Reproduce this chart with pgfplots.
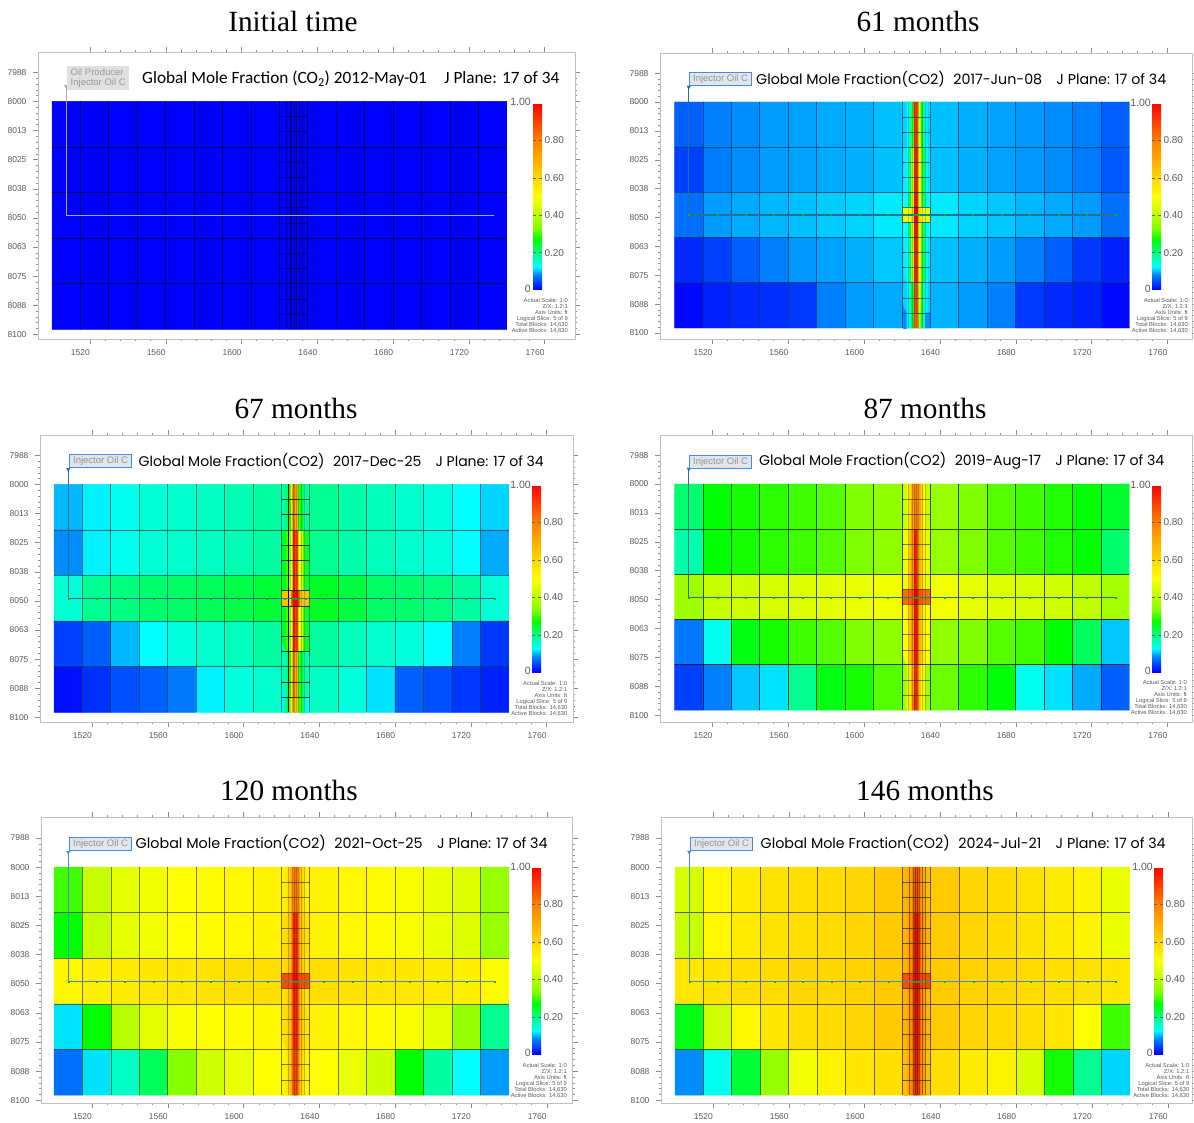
\documentclass[border=0pt]{standalone}
\usepackage{pgfplots}
\usepackage{graphicx}
\usepackage{fontspec}
\pgfplotsset{compat=1.18}
\setmainfont{Liberation Sans}
\newfontfamily\timesf{Liberation Serif}
\newfontfamily\carl{Carlito}
\newfontfamily\pop{Poppins}
\definecolor{tk}{gray}{0.35}
\definecolor{wa}{RGB}{165,170,195}
\definecolor{wb}{RGB}{40,110,150}
\definecolor{wc}{RGB}{70,140,200}
\definecolor{ga}{RGB}{0,60,100}
\definecolor{gb}{RGB}{0,70,70}
\definecolor{gc}{RGB}{70,60,0}
\definecolor{gd}{RGB}{50,45,0}
\definecolor{bx}{RGB}{70,140,220}
\definecolor{bf}{RGB}{225,230,235}
\pgfplotsset{
 colormap={co2}{rgb255(0)=(0,0,255) rgb255(80)=(0,128,255) rgb255(125)=(0,255,255) rgb255(200)=(0,255,128) rgb255(270)=(0,255,0) rgb255(330)=(128,255,0) rgb255(420)=(200,255,0) rgb255(500)=(255,255,0) rgb255(600)=(255,215,0) rgb255(800)=(255,128,0) rgb255(1000)=(255,0,0)},
 panel/.style={scale only axis, y dir=reverse, colormap name=co2, point meta min=0, point meta max=1,
  axis line style={draw=black!25,line width=.6pt}, tick style={black!45,line width=.4pt},
  tick align=outside, xtick pos=both, ytick pos=both, major tick length=5pt, minor tick length=2pt,
  xtick={1520,1560,1600,1640,1680,1720,1760}, xticklabels={1520,1560,1600,1640,1680,1720,1760},
  ytick={7987.5,8000,8012.5,8025,8037.5,8050,8062.5,8075,8087.5,8100}, yticklabels={7988,8000,8013,8025,8038,8050,8063,8075,8088,8100},
  minor x tick num=4, minor y tick num=4, unbounded coords=jump,
  ticklabel style={font=\fontsize{8.5}{9}\selectfont,text=tk},
  xticklabel style={xshift=-9.5pt,yshift=-2.5pt}, yticklabel style={xshift=-3pt},
  colorbar},
 cbar/.style 2 args={colorbar style={at={(parent axis.south west)},anchor=south west,xshift=#1pt,yshift=#2pt,width=9pt,height=187pt,
  ytick={.2,.4,.6,.8},yticklabels={0.20,0.40,0.60,0.80},yticklabel pos=right,axis line style={draw=none},
  major tick length=3pt,tick style={black!60},ticklabel style={font=\fontsize{10}{11}\selectfont,text=tk},yticklabel style={xshift=-1pt}}},
 blocks/.style={matrix plot*, mesh/cols=16, point meta=explicit, table/row sep=\\, table/header=false, table/meta index=0,
  table/x expr={1507.5+15*mod(\coordindex,16)}, table/y expr={8009.785+19.57*floor(\coordindex/16)}},
 centre/.style={matrix plot*, mesh/cols=12, point meta=explicit, table/row sep=\\, table/header=false, table/meta index=0,
  table/x expr={1620.625+1.25*mod(\coordindex,12)}, table/y expr={8003.26+6.523*floor(\coordindex/12)}}
}
% grid lines: #1 main style, #2 short lines of the fine column, #3 its inner lines
\newcommand\gridlines[3]{
 \fill[white] (axis cs:1618,8098.2) rectangle (axis cs:1637,8100.8);
 \addplot[#3,line width=.5pt] coordinates {(1623.5,8000)(1623.5,8097.85)(nan,nan)(1625.5,8000)(1625.5,8097.85)(nan,nan)(1626.5,8000)(1626.5,8097.85)(nan,nan)(1627.6,8000)(1627.6,8097.85)(nan,nan)(1628.8,8000)(1628.8,8097.85)(nan,nan)(1630.5,8000)(1630.5,8097.85)(nan,nan)(1632,8000)(1632,8097.85)};
 \addplot[#2,line width=.6pt] coordinates {(1620,8006.52)(1635,8006.52)(nan,nan)(1620,8013.05)(1635,8013.05)(nan,nan)(1620,8026.09)(1635,8026.09)(nan,nan)(1620,8032.62)(1635,8032.62)(nan,nan)(1620,8045.66)(1635,8045.66)(nan,nan)(1620,8052.19)(1635,8052.19)(nan,nan)(1620,8065.23)(1635,8065.23)(nan,nan)(1620,8071.76)(1635,8071.76)(nan,nan)(1620,8084.80)(1635,8084.80)(nan,nan)(1620,8091.33)(1635,8091.33)};
 \addplot[#1,line width=.8pt] coordinates {(1515,8000)(1515,8097.85)(nan,nan)(1530,8000)(1530,8097.85)(nan,nan)(1545,8000)(1545,8097.85)(nan,nan)(1560,8000)(1560,8097.85)(nan,nan)(1575,8000)(1575,8097.85)(nan,nan)(1590,8000)(1590,8097.85)(nan,nan)(1605,8000)(1605,8097.85)(nan,nan)(1620,8000)(1620,8097.85)(nan,nan)(1635,8000)(1635,8097.85)(nan,nan)(1650,8000)(1650,8097.85)(nan,nan)(1665,8000)(1665,8097.85)(nan,nan)(1680,8000)(1680,8097.85)(nan,nan)(1695,8000)(1695,8097.85)(nan,nan)(1710,8000)(1710,8097.85)(nan,nan)(1725,8000)(1725,8097.85)};
 \addplot[#1,line width=.8pt] coordinates {(1500,8019.57)(1740,8019.57)(nan,nan)(1500,8039.14)(1740,8039.14)(nan,nan)(1500,8058.71)(1740,8058.71)(nan,nan)(1500,8078.28)(1740,8078.28)};
}
\newcommand\well[1]{
 \addplot[#1,line width=1.4pt] coordinates {(1733,8049)(1507.5,8049)};
 \addplot[#1,line width=.9pt] coordinates {(1507.5,7993)(1507.5,8049)};
 \addplot[only marks,mark=triangle*,mark size=2pt,mark options={rotate=180,fill=#1,draw=#1}] coordinates {(1507.5,7993.5)};
}
\newcommand\wellmarks{
 \addplot[only marks,mark=square*,mark size=.5pt,color=green!75!black] coordinates {(1507.5,8049)(1522.5,8049)(1537.5,8049)(1552.5,8049)(1567.5,8049)(1582.5,8049)(1597.5,8049)(1612.5,8049)(1622,8049)(1626,8049)(1627.5,8049)(1629,8049)(1633,8049)(1642.5,8049)(1657.5,8049)(1672.5,8049)(1687.5,8049)(1702.5,8049)(1717.5,8049)(1732.5,8049)};
}
% texts
\newcommand\ttl[3]{\node[font=\timesf\fontsize{29.3}{30}\selectfont] at (#1pt,-#2pt) {#3};}
\newcommand\hd[4]{\node[anchor=west,inner sep=0pt] at (#1pt,-#2pt) {\resizebox{#3pt}{!}{\pop\fontsize{17}{18}\selectfont #4}};}
\newcommand\info[2]{\node[anchor=north east,align=right,inner sep=0pt,text=black!65,font=\fontsize{5.8}{6.1}\selectfont] at (#1pt,-#2pt) {Actual Scale: 1:0\\Z/X: 1.2:1\\Axis Units: ft\\Logical Slice: 5 of 9\\Total Blocks: 14,630\\Active Blocks: 14,630};}
\newcommand\cbends[3]{
 \node[anchor=east,inner sep=0pt,text=tk,font=\fontsize{10.5}{12}\selectfont] at (#1pt,-#2pt) {1.00};
 \node[anchor=east,inner sep=0pt,text=tk,font=\fontsize{10.5}{12}\selectfont] at (#1pt,-#3pt) {0};
}
\newcommand\wbox[3]{\node[anchor=north west,draw=bx,line width=1.2pt,fill=bf,text=black!42,inner sep=0pt,minimum width=62pt,minimum height=13pt,font=\fontsize{9.5}{10}\selectfont] at (#1pt,-#2pt) {#3};}

\begin{document}
\begin{tikzpicture}
\path[use as bounding box] (0,0) rectangle (1194pt,-1123pt);
% ---------- panel 1
\begin{axis}[panel,cbar={486.5}{49},at={(38pt,-339pt)},width=537pt,height=287pt,xmin=1492.6,xmax=1776,ymin=7978.8,ymax=8102]
\addplot[blocks] table {0\\0\\0\\0\\0\\0\\0\\0\\0\\0\\0\\0\\0\\0\\0\\0\\
0\\0\\0\\0\\0\\0\\0\\0\\0\\0\\0\\0\\0\\0\\0\\0\\
0\\0\\0\\0\\0\\0\\0\\0\\0\\0\\0\\0\\0\\0\\0\\0\\
0\\0\\0\\0\\0\\0\\0\\0\\0\\0\\0\\0\\0\\0\\0\\0\\
0\\0\\0\\0\\0\\0\\0\\0\\0\\0\\0\\0\\0\\0\\0\\0\\};
\gridlines{black,opacity=.6}{black,opacity=.4}{black,opacity=.45}
\well{wa}
\end{axis}
% ---------- panel 2
\begin{axis}[panel,cbar={483.5}{49},at={(660pt,-339pt)},width=532pt,height=286pt,xmin=1492.3,xmax=1773,ymin=7978.8,ymax=8102.6]
\addplot[blocks] table {.06\\.08\\.085\\.09\\.092\\.095\\.097\\.103\\.11\\.103\\.097\\.092\\.088\\.085\\.08\\.06\\
.04\\.078\\.085\\.09\\.092\\.095\\.097\\.103\\.11\\.103\\.097\\.092\\.088\\.085\\.078\\.055\\
.07\\.09\\.095\\.1\\.103\\.107\\.11\\.118\\.12\\.118\\.11\\.105\\.1\\.095\\.09\\.07\\
.025\\.04\\.06\\.08\\.088\\.092\\.097\\.105\\.11\\.103\\.097\\.09\\.08\\.06\\.035\\.02\\
.005\\.02\\.025\\.03\\.035\\.08\\.09\\.095\\.1\\.098\\.09\\.08\\.035\\.025\\.02\\.005\\};
\addplot[centre] table {.11\\.11\\.125\\.16\\.3\\.93\\.9\\.45\\.27\\.16\\.12\\.11\\
.11\\.11\\.125\\.16\\.3\\.93\\.9\\.45\\.27\\.16\\.12\\.11\\
.11\\.11\\.125\\.16\\.3\\.93\\.9\\.45\\.27\\.16\\.12\\.11\\
.115\\.12\\.13\\.2\\.4\\.95\\.95\\.55\\.3\\.2\\.13\\.115\\
.115\\.12\\.13\\.2\\.4\\.95\\.95\\.55\\.3\\.2\\.13\\.115\\
.115\\.12\\.13\\.2\\.4\\.95\\.95\\.55\\.3\\.2\\.13\\.115\\
.125\\.125\\.14\\.25\\.45\\.97\\.97\\.55\\.3\\.2\\.14\\.125\\
.48\\.48\\.47\\.47\\.6\\1\\1\\.6\\.47\\.47\\.48\\.48\\
.125\\.125\\.14\\.25\\.45\\.97\\.97\\.55\\.3\\.2\\.14\\.125\\
.115\\.12\\.13\\.2\\.4\\.95\\.95\\.55\\.3\\.2\\.13\\.115\\
.115\\.12\\.13\\.2\\.4\\.95\\.95\\.55\\.3\\.2\\.13\\.115\\
.115\\.12\\.13\\.2\\.4\\.95\\.95\\.55\\.3\\.2\\.13\\.115\\
.11\\.11\\.12\\.15\\.25\\.9\\.88\\.45\\.25\\.15\\.12\\.11\\
.11\\.11\\.12\\.15\\.25\\.9\\.88\\.45\\.25\\.15\\.12\\.11\\
.085\\.085\\.12\\.15\\.25\\.85\\.85\\.4\\.25\\.15\\.085\\.085\\};
\gridlines{ga,opacity=.75}{ga,opacity=.7}{ga,opacity=.25}
\well{wb}\wellmarks
\end{axis}
% ---------- panel 3
\begin{axis}[panel,cbar={483.5}{50},at={(40pt,-722pt)},width=533pt,height=287pt,xmin=1492.6,xmax=1773.9,ymin=7978.8,ymax=8102]
\addplot[blocks] table {.1\\.12\\.135\\.15\\.155\\.16\\.17\\.18\\.2\\.19\\.175\\.165\\.155\\.145\\.125\\.11\\
.085\\.12\\.135\\.15\\.155\\.16\\.17\\.18\\.2\\.19\\.175\\.165\\.155\\.145\\.125\\.095\\
.15\\.19\\.2\\.21\\.215\\.22\\.23\\.24\\.25\\.25\\.235\\.215\\.21\\.2\\.18\\.15\\
.04\\.06\\.1\\.125\\.145\\.155\\.165\\.18\\.19\\.18\\.165\\.155\\.145\\.125\\.08\\.035\\
.01\\.03\\.05\\.06\\.075\\.12\\.145\\.155\\.165\\.16\\.145\\.115\\.06\\.05\\.035\\.02\\};
\addplot[centre] table {.17\\.19\\.2\\.27\\.55\\.85\\.7\\.3\\.27\\.2\\.18\\.18\\
.17\\.19\\.2\\.27\\.55\\.85\\.7\\.3\\.27\\.2\\.18\\.18\\
.17\\.19\\.2\\.27\\.55\\.85\\.7\\.3\\.27\\.2\\.18\\.18\\
.25\\.25\\.3\\.33\\.5\\.97\\.9\\.5\\.45\\.3\\.24\\.24\\
.25\\.25\\.3\\.33\\.5\\.97\\.9\\.5\\.45\\.3\\.24\\.24\\
.25\\.25\\.3\\.33\\.5\\.97\\.9\\.5\\.45\\.3\\.24\\.24\\
.25\\.25\\.3\\.33\\.5\\.97\\.9\\.5\\.45\\.3\\.24\\.24\\
.65\\.65\\.65\\.6\\.85\\1\\1\\.85\\.65\\.65\\.65\\.65\\
.25\\.25\\.3\\.33\\.5\\.97\\.9\\.5\\.45\\.3\\.24\\.24\\
.25\\.25\\.3\\.33\\.5\\.97\\.9\\.5\\.45\\.3\\.24\\.24\\
.25\\.25\\.3\\.33\\.5\\.97\\.9\\.5\\.45\\.3\\.24\\.24\\
.17\\.17\\.2\\.25\\.5\\.85\\.7\\.3\\.25\\.2\\.17\\.17\\
.17\\.17\\.2\\.25\\.5\\.85\\.7\\.3\\.25\\.2\\.17\\.17\\
.17\\.17\\.2\\.25\\.5\\.85\\.7\\.3\\.25\\.2\\.17\\.17\\
.12\\.12\\.25\\.3\\.55\\.8\\.6\\.3\\.3\\.2\\.125\\.125\\};
\gridlines{gb,opacity=.7}{black,opacity=.75}{gb,opacity=.25}
\addplot[black,line width=.8pt] coordinates {(1623.5,8000)(1623.5,8097.85)};
\well{wb}\wellmarks
\end{axis}
% ---------- panel 4
\begin{axis}[panel,cbar={483.5}{50},at={(660pt,-722pt)},width=532pt,height=287pt,xmin=1492.3,xmax=1773,ymin=7978.8,ymax=8103]
\addplot[blocks] table {.21\\.27\\.28\\.29\\.3\\.31\\.33\\.35\\.42\\.36\\.33\\.31\\.3\\.285\\.27\\.245\\
.175\\.27\\.28\\.29\\.3\\.31\\.33\\.35\\.42\\.36\\.33\\.31\\.3\\.285\\.27\\.21\\
.37\\.42\\.43\\.44\\.45\\.46\\.47\\.48\\.5\\.48\\.46\\.45\\.44\\.43\\.41\\.38\\
.075\\.135\\.26\\.28\\.3\\.31\\.33\\.35\\.42\\.35\\.33\\.31\\.3\\.27\\.22\\.105\\
.04\\.08\\.105\\.115\\.19\\.26\\.28\\.31\\.4\\.32\\.29\\.265\\.135\\.115\\.095\\.06\\};
\addplot[centre] table {.42\\.42\\.48\\.58\\.72\\.8\\.8\\.72\\.6\\.5\\.42\\.42\\
.42\\.42\\.48\\.58\\.72\\.8\\.8\\.72\\.6\\.5\\.42\\.42\\
.42\\.42\\.48\\.58\\.72\\.8\\.8\\.72\\.6\\.5\\.42\\.42\\
.47\\.47\\.52\\.65\\.75\\.97\\.9\\.7\\.6\\.52\\.47\\.47\\
.47\\.47\\.52\\.65\\.75\\.97\\.9\\.7\\.6\\.52\\.47\\.47\\
.47\\.47\\.52\\.65\\.75\\.97\\.9\\.7\\.6\\.52\\.47\\.47\\
.47\\.47\\.52\\.65\\.75\\.97\\.9\\.7\\.6\\.52\\.47\\.47\\
.83\\.83\\.83\\.85\\.88\\1\\1\\.88\\.85\\.83\\.83\\.83\\
.5\\.5\\.52\\.65\\.75\\.97\\.95\\.7\\.6\\.52\\.5\\.5\\
.5\\.5\\.52\\.65\\.75\\.97\\.95\\.7\\.6\\.52\\.5\\.5\\
.5\\.5\\.52\\.65\\.75\\.97\\.95\\.7\\.6\\.52\\.5\\.5\\
.5\\.5\\.52\\.65\\.75\\.97\\.95\\.7\\.6\\.52\\.5\\.5\\
.37\\.37\\.47\\.55\\.7\\.95\\.9\\.65\\.5\\.47\\.37\\.37\\
.37\\.37\\.47\\.55\\.7\\.95\\.9\\.65\\.5\\.47\\.37\\.37\\
.37\\.37\\.47\\.55\\.7\\.95\\.9\\.65\\.5\\.47\\.37\\.37\\};
\gridlines{black,opacity=.7}{gd,opacity=.6}{gd,opacity=.3}
\well{wb}\wellmarks
\end{axis}
% ---------- panel 5
\begin{axis}[panel,cbar={482.5}{49},at={(41pt,-1103pt)},width=531.5pt,height=286pt,xmin=1493.1,xmax=1773.6,ymin=7978.5,ymax=8101.2]
\addplot[blocks] table {.3\\.42\\.46\\.48\\.5\\.51\\.52\\.53\\.55\\.53\\.52\\.51\\.49\\.47\\.45\\.36\\
.27\\.42\\.46\\.48\\.5\\.51\\.52\\.53\\.55\\.53\\.52\\.51\\.49\\.47\\.45\\.36\\
.52\\.54\\.55\\.56\\.56\\.57\\.58\\.58\\.6\\.58\\.57\\.56\\.56\\.55\\.54\\.51\\
.115\\.27\\.4\\.46\\.49\\.5\\.51\\.52\\.55\\.53\\.52\\.51\\.49\\.46\\.36\\.19\\
.07\\.115\\.16\\.22\\.34\\.43\\.47\\.5\\.53\\.5\\.47\\.43\\.27\\.18\\.125\\.09\\};
\addplot[centre] table {.53\\.53\\.56\\.62\\.72\\.82\\.82\\.72\\.62\\.57\\.53\\.53\\
.53\\.53\\.56\\.62\\.72\\.82\\.82\\.72\\.62\\.57\\.53\\.53\\
.53\\.53\\.56\\.62\\.72\\.82\\.82\\.72\\.62\\.57\\.53\\.53\\
.58\\.58\\.6\\.65\\.75\\.97\\.95\\.75\\.65\\.6\\.58\\.58\\
.58\\.58\\.6\\.65\\.75\\.97\\.95\\.75\\.65\\.6\\.58\\.58\\
.58\\.58\\.6\\.65\\.75\\.97\\.95\\.75\\.65\\.6\\.58\\.58\\
.58\\.58\\.6\\.65\\.75\\.97\\.95\\.75\\.65\\.6\\.58\\.58\\
.88\\.88\\.88\\.88\\.9\\1\\1\\.9\\.88\\.88\\.88\\.88\\
.57\\.57\\.6\\.65\\.75\\.97\\.95\\.75\\.65\\.6\\.57\\.57\\
.57\\.57\\.6\\.65\\.75\\.97\\.95\\.75\\.65\\.6\\.57\\.57\\
.57\\.57\\.6\\.65\\.75\\.97\\.95\\.75\\.65\\.6\\.57\\.57\\
.57\\.57\\.6\\.65\\.75\\.97\\.95\\.75\\.65\\.6\\.57\\.57\\
.52\\.52\\.56\\.62\\.72\\.92\\.9\\.7\\.62\\.56\\.52\\.52\\
.52\\.52\\.56\\.62\\.72\\.92\\.9\\.7\\.62\\.56\\.52\\.52\\
.52\\.52\\.56\\.62\\.72\\.92\\.9\\.7\\.62\\.56\\.52\\.52\\};
\gridlines{gc,opacity=.7}{gc,opacity=.65}{gc,opacity=.3}
\well{wc}\wellmarks
\end{axis}
% ---------- panel 6
\begin{axis}[panel,cbar={484.5}{49},at={(661pt,-1103pt)},width=531pt,height=286pt,xmin=1492.6,xmax=1772.8,ymin=7978.5,ymax=8101.2]
\addplot[blocks] table {.44\\.52\\.55\\.57\\.58\\.59\\.6\\.63\\.66\\.63\\.6\\.59\\.57\\.55\\.53\\.47\\
.42\\.52\\.55\\.57\\.58\\.59\\.6\\.63\\.66\\.63\\.6\\.59\\.57\\.55\\.53\\.47\\
.56\\.57\\.58\\.59\\.6\\.6\\.61\\.63\\.66\\.63\\.61\\.6\\.59\\.58\\.57\\.56\\
.26\\.43\\.52\\.56\\.58\\.59\\.6\\.63\\.66\\.63\\.6\\.59\\.58\\.56\\.5\\.3\\
.085\\.135\\.24\\.36\\.48\\.53\\.56\\.58\\.62\\.58\\.55\\.53\\.44\\.28\\.19\\.11\\};
\addplot[centre] table {.68\\.68\\.7\\.72\\.8\\.88\\.88\\.8\\.72\\.7\\.66\\.66\\
.68\\.68\\.7\\.72\\.8\\.88\\.88\\.8\\.72\\.7\\.66\\.66\\
.68\\.68\\.7\\.72\\.8\\.88\\.88\\.8\\.72\\.7\\.66\\.66\\
.68\\.68\\.72\\.78\\.85\\.97\\.97\\.85\\.78\\.72\\.68\\.68\\
.68\\.68\\.72\\.78\\.85\\.97\\.97\\.85\\.78\\.72\\.68\\.68\\
.68\\.68\\.72\\.78\\.85\\.97\\.97\\.85\\.78\\.72\\.68\\.68\\
.68\\.68\\.72\\.78\\.85\\.97\\.97\\.85\\.78\\.72\\.68\\.68\\
.88\\.88\\.88\\.88\\.92\\1\\1\\.92\\.88\\.88\\.88\\.88\\
.68\\.68\\.72\\.78\\.85\\.97\\.97\\.85\\.78\\.72\\.68\\.68\\
.68\\.68\\.72\\.78\\.85\\.97\\.97\\.85\\.78\\.72\\.68\\.68\\
.68\\.68\\.72\\.78\\.85\\.97\\.97\\.85\\.78\\.72\\.68\\.68\\
.68\\.68\\.72\\.78\\.85\\.97\\.97\\.85\\.78\\.72\\.68\\.68\\
.66\\.66\\.7\\.75\\.82\\.95\\.95\\.82\\.75\\.7\\.66\\.66\\
.66\\.66\\.7\\.75\\.82\\.95\\.95\\.82\\.75\\.7\\.66\\.66\\
.66\\.66\\.7\\.75\\.82\\.95\\.95\\.82\\.75\\.7\\.66\\.66\\};
\gridlines{gd,opacity=.7}{gd,opacity=.7}{gd,opacity=.55}
\well{wc}\wellmarks
\end{axis}
% ---------- titles
\ttl{293}{21.5}{Initial time}\ttl{918}{21.5}{61 months}
\ttl{296}{408.5}{67 months}\ttl{925}{408.5}{87 months}
\ttl{289}{790.5}{120 months}\ttl{925}{790.5}{146 months}
% ---------- headings
\node[anchor=west,inner sep=0pt] at (142pt,-79pt) {\resizebox{417pt}{!}{\carl\fontsize{17}{18}\selectfont Global Mole Fraction (CO\textsubscript{2}) 2012-May-01\hspace{1em}J Plane: 17 of 34}};
\hd{756}{79}{410}{Global Mole Fraction(CO2)\hspace{.6em}2017-Jun-08\hspace{1em}J Plane: 17 of 34}
\hd{138.5}{461}{405}{Global Mole Fraction(CO2)\hspace{.6em}2017-Dec-25\hspace{1em}J Plane: 17 of 34}
\hd{759}{461}{405}{Global Mole Fraction(CO2)\hspace{.6em}2019-Aug-17\hspace{1em}J Plane: 17 of 34}
\hd{135.5}{843}{412}{Global Mole Fraction(CO2)\hspace{.6em}2021-Oct-25\hspace{1em}J Plane: 17 of 34}
\hd{760.5}{843}{405}{Global Mole Fraction(CO2)\hspace{.6em}2024-Jul-21\hspace{1em}J Plane: 17 of 34}
% ---------- well labels
\node[anchor=north west,fill=black!12,text=black!40,inner sep=1pt,align=left,minimum width=62pt,minimum height=24pt,font=\fontsize{9.5}{10.5}\selectfont] at (67pt,-66pt) {Oil Producer\\Injector Oil C};
\wbox{689}{72}{Injector Oil C}\wbox{69}{454}{Injector Oil C}\wbox{689}{455}{Injector Oil C}\wbox{69}{837}{Injector Oil C}\wbox{690}{837}{Injector Oil C}
% ---------- colour bar ends
\cbends{531}{102}{289}\cbends{1151}{103}{289}\cbends{531}{485}{671}\cbends{1151}{485}{671}\cbends{531}{867}{1053}\cbends{1153}{867}{1053}
% ---------- info
\info{568}{298}\info{1188}{298}\info{567.5}{681}\info{1187}{680}\info{567}{1063}\info{1189.5}{1063}
\end{tikzpicture}
\end{document}
